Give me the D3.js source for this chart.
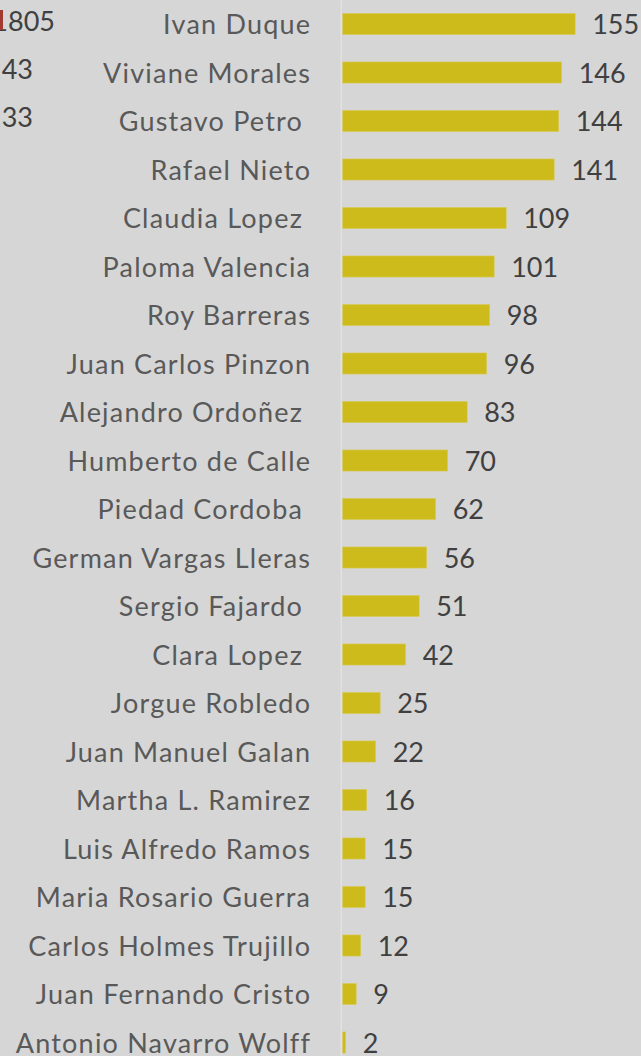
<!DOCTYPE html>
<html>
<head>
<meta charset="utf-8">
<script src="https://cdn.jsdelivr.net/npm/d3@7"></script>
<style>
  html, body { margin: 0; padding: 0; background: #d6d6d6; }
  svg { display: block; }
  text { white-space: pre; }
</style>
</head>
<body>
<div id="chart"></div>
<script>
// candidates, top to bottom (trailing spaces are in the source labels)
const names = [
  "Ivan Duque", "Viviane Morales", "Gustavo Petro ", "Rafael Nieto",
  "Claudia Lopez ", "Paloma Valencia", "Roy Barreras", "Juan Carlos Pinzon",
  "Alejandro Ordoñez ", "Humberto de Calle", "Piedad Cordoba ", "German Vargas Lleras",
  "Sergio Fajardo ", "Clara Lopez ", "Jorgue Robledo", "Juan Manuel Galan",
  "Martha L. Ramirez", "Luis Alfredo Ramos", "Maria Rosario Guerra", "Carlos Holmes Trujillo",
  "Juan Fernando Cristo", "Antonio Navarro Wolff"
];
const counts = [155, 146, 144, 141, 109, 101, 98, 96, 83, 70, 62, 56, 51, 42, 25, 22, 16, 15, 15, 12, 9, 2];

// cut-off labels of the neighbouring chart at the left edge
const sideLabels = ["1805", "143", "133"];

const W = 641, H = 1056;
const svg = d3.select("#chart").append("svg")
  .attr("width", W).attr("height", H);

svg.append("rect").attr("width", W).attr("height", H).attr("fill", "#d6d6d6");

const x = d3.scaleLinear().domain([0, 160]).range([342.7, 582.7]);
const y = d3.scaleBand().domain(names)
  .range([-0.25, -0.25 + 48.5 * names.length])
  .paddingInner(0.565).paddingOuter(0.2825);

const font = "Lato, 'Open Sans', sans-serif";

// axis line
svg.append("line")
  .attr("x1", x(0) - 1.5).attr("x2", x(0) - 1.5)
  .attr("y1", 0).attr("y2", H)
  .attr("stroke", "#e2e2e2").attr("stroke-width", 1.5);

const rows = svg.selectAll("g.row").data(names.map((n, i) => ({name: n, v: counts[i]})))
  .join("g").attr("class", "row");

rows.append("rect")
  .attr("x", x(0))
  .attr("y", d => y(d.name))
  .attr("width", d => x(d.v) - x(0))
  .attr("height", y.bandwidth())
  .attr("fill", "#cdbb1c")
  .attr("stroke", "#d9cc5a").attr("stroke-width", 0.6);

rows.append("text")
  .attr("x", 311.2)
  .attr("y", d => y(d.name) + y.bandwidth() / 2 + 10)
  .attr("text-anchor", "end")
  .attr("font-family", font).attr("font-size", 27)
  .attr("letter-spacing", 1.2)
  .attr("fill", "#595959")
  .text(d => d.name);

rows.append("text")
  .attr("x", d => x(d.v) + 17)
  .attr("y", d => y(d.name) + y.bandwidth() / 2 + 10)
  .attr("font-family", font).attr("font-size", 27)
  .attr("fill", "#404040")
  .text(d => d.v);

// neighbouring chart fragments
svg.selectAll("text.side").data(sideLabels).join("text")
  .attr("class", "side")
  .attr("x", (d, i) => i === 0 ? 55 : 33)
  .attr("y", (d, i) => 31 + i * 48)
  .attr("text-anchor", "end")
  .attr("font-family", font).attr("font-size", 27)
  .attr("fill", "#404040")
  .text(d => d);

svg.append("rect").attr("x", 0).attr("y", 10).attr("width", 3).attr("height", 20)
  .attr("fill", "#a33a32");
</script>
</body>
</html>
